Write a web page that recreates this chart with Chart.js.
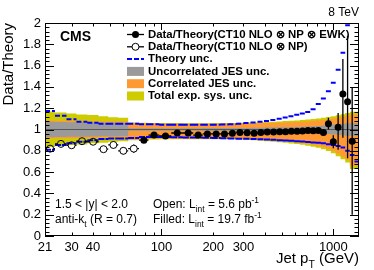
<!DOCTYPE html>
<html><head><meta charset="utf-8">
<script src="https://cdn.jsdelivr.net/npm/chart.js@4/dist/chart.umd.min.js"></script>
<style>html,body{margin:0;padding:0;background:#fff}#wrap{position:relative;width:374px;height:270px}</style>
</head><body><div id="wrap"><canvas id="c" width="374" height="270"></canvas></div>
<script>
// ---- data ----
const binEdges = [21,24,28,32,37,43,49,56,64,74,84,97,114,133,153,174,196,220,245,272,300,330,362,395,430,468,507,548,592,638,686,737,790,846,905,967,1032,1101,1172,1248,1327,1410];
// open points (L = 5.6 pb^-1), bins 0..8
const openCenters = [22.5,26,30,34.5,40,46,52.5,60,69];
const openValues  = [0.82,0.865,0.852,0.89,0.885,0.815,0.855,0.80,0.82];
const openErrors  = [0.012,0.01,0.01,0.01,0.01,0.03,0.035,0.035,0.04];
// filled points (L = 19.7 fb^-1), bins 9..39
const filledCenters = [79,90.5,105.5,123.5,143,163.5,185,208,232.5,258.5,286,315,346,378.5,412.5,449,487.5,527.5,570,615,662,711.5,763.5,818,875.5,936,999.5,1066,1136,1210,1287];
const filledValues  = [0.90,0.948,0.94,0.967,0.967,0.948,0.958,0.958,0.958,0.964,0.973,0.97,0.964,0.973,0.976,0.976,0.979,0.979,0.983,0.984,0.986,0.99,0.988,0.99,0.972,1.055,0.885,1.02,1.333,1.26,0.89];
const filledErrUp   = [0.006,0.006,0.006,0.006,0.006,0.006,0.006,0.006,0.006,0.006,0.006,0.006,0.006,0.006,0.006,0.006,0.006,0.006,0.006,0.006,0.007,0.008,0.01,0.012,0.02,0.055,0.06,0.135,0.33,0.62,0.5];
const filledErrDown = [0.006,0.006,0.006,0.006,0.006,0.006,0.006,0.006,0.006,0.006,0.006,0.006,0.006,0.006,0.006,0.006,0.006,0.006,0.006,0.006,0.007,0.008,0.01,0.012,0.02,0.055,0.06,0.21,0.41,0.53,0.69];
// per-bin bands (41 bins)
const theoryUp   = [1.174,1.13,1.096,1.073,1.064,1.055,1.055,1.055,1.055,1.05,1.05,1.045,1.045,1.045,1.045,1.045,1.045,1.048,1.05,1.055,1.06,1.065,1.072,1.08,1.09,1.10,1.112,1.125,1.138,1.15,1.165,1.19,1.24,1.29,1.36,1.44,1.56,1.72,1.98,2.3,2.7];
const theoryDown = [0.81,0.855,0.87,0.885,0.90,0.91,0.915,0.915,0.92,0.93,0.93,0.93,0.928,0.926,0.924,0.922,0.92,0.918,0.916,0.914,0.912,0.91,0.908,0.905,0.903,0.9,0.897,0.894,0.89,0.887,0.883,0.879,0.875,0.87,0.862,0.855,0.845,0.83,0.80,0.76,0.70];
const uncorrJesUp   = [1.075,1.073,1.071,1.069,1.067,1.065,1.064,1.063,1.062,1.012,1.012,1.012,1.012,1.012,1.012,1.012,1.013,1.013,1.014,1.014,1.015,1.015,1.016,1.017,1.018,1.019,1.02,1.021,1.022,1.024,1.026,1.028,1.031,1.034,1.038,1.042,1.046,1.05,1.054,1.058,1.062];
const uncorrJesDown = [0.925,0.927,0.929,0.931,0.933,0.935,0.936,0.937,0.938,0.988,0.988,0.988,0.988,0.988,0.988,0.988,0.987,0.987,0.986,0.986,0.985,0.985,0.984,0.983,0.982,0.981,0.98,0.979,0.978,0.976,0.974,0.972,0.969,0.966,0.962,0.958,0.954,0.95,0.946,0.942,0.938];
const corrJesUp   = [1.087,1.085,1.083,1.081,1.079,1.077,1.076,1.075,1.074,1.06,1.058,1.056,1.055,1.054,1.053,1.053,1.053,1.053,1.054,1.055,1.056,1.057,1.058,1.06,1.061,1.062,1.064,1.066,1.068,1.07,1.073,1.076,1.08,1.084,1.09,1.096,1.103,1.11,1.12,1.13,1.14];
const corrJesDown = [0.913,0.915,0.917,0.919,0.921,0.923,0.924,0.925,0.926,0.905,0.91,0.912,0.914,0.915,0.915,0.915,0.915,0.915,0.915,0.915,0.913,0.91,0.907,0.903,0.9,0.896,0.892,0.888,0.883,0.878,0.872,0.865,0.857,0.848,0.835,0.82,0.80,0.775,0.745,0.72,0.66];
const totalUp   = [1.185,1.17,1.16,1.15,1.14,1.135,1.125,1.115,1.11,1.066,1.064,1.062,1.061,1.06,1.059,1.059,1.059,1.06,1.061,1.062,1.063,1.065,1.066,1.069,1.071,1.073,1.076,1.079,1.082,1.085,1.089,1.093,1.098,1.103,1.11,1.117,1.125,1.133,1.144,1.155,1.166];
const totalDown = [0.825,0.835,0.845,0.855,0.86,0.87,0.875,0.885,0.89,0.899,0.904,0.906,0.908,0.909,0.909,0.909,0.909,0.909,0.908,0.908,0.905,0.902,0.898,0.894,0.89,0.885,0.88,0.875,0.869,0.863,0.856,0.848,0.839,0.829,0.815,0.798,0.777,0.75,0.72,0.69,0.63];
// tick labels
const xTickLabels = [21,30,40,100,200,300,1000];
const yTickLabels = [0,0.2,0.4,0.6,0.8,1,1.2,1.4,1.6,1.8,2];

// ---- style ----
const FONT = '"Liberation Sans", Arial, Helvetica, sans-serif';
const GRAY = '#9a9a9a', ORANGE = '#ff9933', YELLOW = '#cccc00', BLUE = '#0000ff';

const stepData = vals => vals.map((v,i)=>({x:binEdges[i], y:v})).concat([{x:binEdges[vals.length], y:vals[vals.length-1]}]);
const segData = vals => { const out=[]; vals.forEach((v,i)=>{ out.push({x:binEdges[i],y:v}); out.push({x:binEdges[i+1],y:v}); out.push({x:binEdges[i+1],y:null}); }); return out; };

const openLo = openCenters.map((c,i)=>binEdges[i]), openHi = openCenters.map((c,i)=>binEdges[i+1]);
const filledLo = filledCenters.map((c,i)=>binEdges[i+9]), filledHi = filledCenters.map((c,i)=>binEdges[i+10]);

function band(up, down, color, order){
  return [
    {data:stepData(up), stepped:'after', borderWidth:0, pointRadius:0, backgroundColor:color, fill:'+1', order, clip:0},
    {data:stepData(down), stepped:'after', borderWidth:0, pointRadius:0, fill:false, order, clip:0}
  ];
}

const datasets = [
  ...band(totalUp,totalDown,YELLOW,10),
  ...band(corrJesUp,corrJesDown,ORANGE,9),
  ...band(uncorrJesUp,uncorrJesDown,GRAY,8),
  {data:[{x:binEdges[0],y:1},{x:binEdges[binEdges.length-1],y:1}], borderColor:'#555', borderWidth:1, pointRadius:0, fill:false, order:7},
  {data:segData(theoryUp), borderColor:BLUE, borderWidth:2, borderDash:[5,2], pointRadius:0, fill:false, spanGaps:false, order:6, clip:0},
  {data:segData(theoryDown), borderColor:BLUE, borderWidth:2, borderDash:[6,1], pointRadius:0, fill:false, spanGaps:false, order:6, clip:0},
  {data:openCenters.map((c,i)=>({x:c,y:openValues[i]})), showLine:false, pointRadius:3.5, pointBorderWidth:1, pointBorderColor:'#000', pointBackgroundColor:'rgba(0,0,0,0)', order:5,
    errBars:{lo:openLo, hi:openHi, up:openErrors, dn:openErrors, gap:3.5}},
  {data:filledCenters.map((c,i)=>({x:c,y:filledValues[i]})), showLine:false, pointRadius:3.5, pointBorderWidth:0, pointBackgroundColor:'#000', pointBorderColor:'#000', order:4,
    errBars:{lo:filledLo, hi:filledHi, up:filledErrUp, dn:filledErrDown, gap:0}}
];

const errorBars = {
  id:'errorBars',
  beforeDatasetDraw(chart,args){
    const ds = chart.data.datasets[args.index];
    if(!ds.errBars) return;
    const {ctx, chartArea:a} = chart; const xs=chart.scales.x, ys=chart.scales.y; const e=ds.errBars;
    ctx.save(); ctx.beginPath(); ctx.rect(a.left,a.top,a.right-a.left,a.bottom-a.top); ctx.clip();
    ctx.strokeStyle='#000'; ctx.lineWidth=1.3; ctx.beginPath();
    ds.data.forEach((p,i)=>{
      const px=xs.getPixelForValue(p.x), py=ys.getPixelForValue(p.y);
      const xl=xs.getPixelForValue(e.lo[i]), xh=xs.getPixelForValue(e.hi[i]);
      const yt=ys.getPixelForValue(p.y+e.up[i]), yb=ys.getPixelForValue(p.y-e.dn[i]);
      const g=e.gap;
      if(px-g>xl){ctx.moveTo(xl,py);ctx.lineTo(px-g,py);}
      if(xh>px+g){ctx.moveTo(px+g,py);ctx.lineTo(xh,py);}
      if(py-g>yt){ctx.moveTo(px,yt);ctx.lineTo(px,py-g);}
      if(yb>py+g){ctx.moveTo(px,py+g);ctx.lineTo(px,yb);}
    });
    ctx.stroke(); ctx.restore();
  }
};

function richWidth(ctx, parts, size){
  let w=0; parts.forEach(p=>{ ctx.font=(p.bold?'bold ':'')+((p.sub||p.sup)?size*0.7:size)+'px '+FONT; w+=ctx.measureText(p.t).width; }); return w;
}
function drawRich(ctx, parts, x, y, size){
  parts.forEach(p=>{
    const s=(p.sub||p.sup)?size*0.7:size;
    ctx.font=(p.bold?'bold ':'')+s+'px '+FONT;
    const dy = p.sub? size*0.35 : (p.sup? -size*0.4 : 0);
    ctx.fillText(p.t, x, y+dy); x+=ctx.measureText(p.t).width;
  });
}

const decor = {
  id:'decor',
  afterDatasetsDraw(chart){
    const {ctx, chartArea:a} = chart; const xs=chart.scales.x, ys=chart.scales.y;
    ctx.save();
    // frame
    ctx.strokeStyle='#000'; ctx.lineWidth=1;
    ctx.strokeRect(Math.round(a.left)+0.5, Math.round(a.top)+0.5, Math.round(a.right-a.left)-1, Math.round(a.bottom-a.top)-1);
    // x ticks (inside, bottom and top)
    ctx.beginPath();
    for(let dec=10; dec<=1000; dec*=10){
      for(let m=1;m<10;m++){
        const v=m*dec; if(v<binEdges[0]||v>binEdges[binEdges.length-1]) continue;
        const px=Math.round(xs.getPixelForValue(v))+0.5; const L=(m===1)?7:3.5;
        ctx.moveTo(px,a.bottom); ctx.lineTo(px,a.bottom-L);
        ctx.moveTo(px,a.top); ctx.lineTo(px,a.top+L);
      }
    }
    // y ticks
    for(let k=0;k<=50;k++){
      const v=k*0.04; const py=Math.round(ys.getPixelForValue(v))+0.5; const L=(k%5===0)?9:4.5;
      ctx.moveTo(a.left,py); ctx.lineTo(a.left+L,py);
      ctx.moveTo(a.right,py); ctx.lineTo(a.right-L,py);
    }
    ctx.stroke();

    ctx.fillStyle='#000'; ctx.textBaseline='middle'; ctx.textAlign='left';
    // CMS
    ctx.font='bold 14px '+FONT; ctx.fillText('CMS', 60, 37);
    // 8 TeV
    ctx.font='12px '+FONT; ctx.textAlign='right'; ctx.fillText('8 TeV', a.right, 13); ctx.textAlign='left';
    // legend
    const rows=[
      {type:'filled', text:'Data/Theory(CT10 NLO \u2297 NP \u2297 EWK)'},
      {type:'open', text:'Data/Theory(CT10 NLO \u2297 NP)'},
      {type:'dash', text:'Theory unc.'},
      {type:'box', color:GRAY, text:'Uncorrelated JES unc.'},
      {type:'box', color:ORANGE, text:'Correlated JES unc.'},
      {type:'box', color:YELLOW, text:'Total exp. sys. unc.'}
    ];
    rows.forEach((r,i)=>{
      const y=34.5+i*12.3, x0=127, x1=144, xc=135.5;
      if(r.type==='filled'||r.type==='open'){
        ctx.strokeStyle='#000'; ctx.lineWidth=1.3; ctx.beginPath(); ctx.moveTo(x0,y); ctx.lineTo(x1,y); ctx.stroke();
        ctx.beginPath(); ctx.arc(xc,y,3.5,0,Math.PI*2);
        if(r.type==='filled'){ctx.fillStyle='#000'; ctx.fill();} else {ctx.fillStyle='#fff'; ctx.fill(); ctx.lineWidth=1; ctx.stroke();}
      } else if(r.type==='dash'){
        ctx.strokeStyle=BLUE; ctx.lineWidth=2; ctx.setLineDash([5,2]); ctx.beginPath(); ctx.moveTo(x0,y); ctx.lineTo(x1,y); ctx.stroke(); ctx.setLineDash([]);
      } else {
        ctx.fillStyle=r.color; ctx.fillRect(x0,y-4.5,x1-x0,9);
      }
      ctx.fillStyle='#000'; ctx.font='bold 11.4px '+FONT; ctx.fillText(r.text,148,y);
    });
    // annotations
    ctx.fillStyle='#000';
    drawRich(ctx,[{t:'1.5 < |y| < 2.0'}],55,205,12);
    drawRich(ctx,[{t:'anti-k'},{t:'t',sub:true},{t:' (R = 0.7)'}],55,220,12);
    drawRich(ctx,[{t:'Open: L'},{t:'int',sub:true},{t:' = 5.6 pb'},{t:'-1',sup:true}],153,205,12);
    drawRich(ctx,[{t:'Filled: L'},{t:'int',sub:true},{t:' = 19.7 fb'},{t:'-1',sup:true}],153,220,12);
    // x title
    const xt=[{t:'Jet p'},{t:'T',sub:true},{t:' (GeV)'}];
    const w=richWidth(ctx,xt,15);
    ctx.textBaseline='alphabetic';
    drawRich(ctx,xt,a.right-w,263,15);
    ctx.restore();
  }
};

new Chart(document.getElementById('c'), {
  type:'line',
  data:{datasets},
  options:{
    responsive:false, animation:false, devicePixelRatio:1,
    layout:{padding:{top:23,right:15,left:0,bottom:0}},
    plugins:{legend:{display:false}, tooltip:{enabled:false}},
    parsing:true,
    scales:{
      x:{type:'logarithmic', min:binEdges[0], max:binEdges[binEdges.length-1],
        afterBuildTicks:s=>{ s.ticks = xTickLabels.map(v=>({value:v})); },
        afterFit:s=>{ s.height=34; },
        grid:{display:false, drawTicks:false}, border:{display:false},
        ticks:{autoSkip:false, maxRotation:0, padding:4, color:'#000', font:{family:FONT,size:13}, callback:v=>String(v)}
      },
      y:{type:'linear', min:0, max:2,
        afterBuildTicks:s=>{ s.ticks = yTickLabels.map(v=>({value:v})); },
        afterFit:s=>{ s.width=45; },
        grid:{display:false, drawTicks:false}, border:{display:false},
        ticks:{padding:4, color:'#000', font:{family:FONT,size:13}, callback:v=>String(Math.round(v*10)/10)},
        title:{display:true, text:'Data/Theory', align:'end', color:'#000', font:{family:FONT,size:15}, padding:{top:0,bottom:0}}
      }
    }
  },
  plugins:[errorBars, decor]
});
</script></body></html>
